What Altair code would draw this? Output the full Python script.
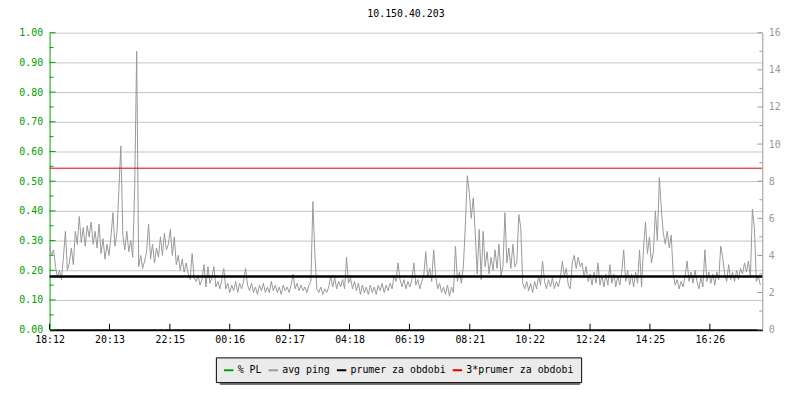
import altair as alt
import pandas as pd

TITLE = "10.150.40.203"
START = "2000-01-01 18:12"
STEP_MIN = 4

# avg ping in ms (right axis 0-16), one value per 4 minutes
ping_ms = [
    4.5, 4.0, 4.3, 3.4, 2.8, 3.2, 2.7, 3.9, 5.3, 3.2, 3.6, 4.4, 3.5, 5.3, 4.6, 6.1, 4.7, 5.5, 4.5, 5.6,
    5.0, 5.8, 4.6, 5.3, 4.4, 5.7, 4.1, 4.9, 3.8, 4.6, 4.0, 5.0, 6.3, 4.5, 5.2, 7.5, 9.9, 5.1, 4.3, 5.3,
    4.2, 4.8, 3.9, 7.7, 15.0, 3.4, 4.0, 3.3, 3.7, 4.2, 5.7, 3.8, 4.6, 3.6, 4.4, 3.9, 5.0, 4.0, 5.2, 4.3,
    4.6, 5.4, 4.0, 5.0, 3.5, 4.0, 3.2, 3.8, 3.1, 3.6, 3.0, 2.7, 4.1, 2.8, 2.6, 2.9, 2.4, 2.7, 3.5, 2.3,
    3.4, 2.5, 2.8, 3.4, 2.3, 2.6, 2.2, 2.7, 3.3, 2.2, 2.5, 2.0, 2.4, 2.1, 2.6, 2.0, 2.5, 2.2, 2.6, 3.3,
    2.4, 2.1, 2.5, 2.0, 2.3, 1.9, 2.4, 2.1, 2.5, 2.0, 2.3, 2.0, 2.6, 2.1, 2.4, 2.0, 2.3, 1.9, 2.4, 2.1,
    2.3, 2.0, 2.4, 3.0, 2.2, 2.5, 2.1, 2.4, 2.1, 2.3, 2.0, 2.4, 2.6, 6.9, 4.1, 2.2, 2.0, 2.3, 1.9, 2.2,
    2.0, 2.3, 2.9, 2.3, 2.8, 2.2, 2.6, 2.3, 2.7, 2.2, 3.9, 2.5, 2.8, 2.2, 2.6, 2.1, 2.5, 1.9, 2.4, 2.0,
    2.3, 1.9, 2.4, 2.0, 2.3, 1.9, 2.4, 2.1, 2.5, 2.0, 2.4, 2.1, 2.5, 2.2, 2.9, 2.6, 3.6, 2.7, 2.3, 2.7,
    2.2, 2.6, 2.3, 2.7, 3.6, 2.4, 2.7, 2.2, 2.6, 2.9, 4.2, 2.8, 3.3, 2.6, 4.3, 2.9, 2.2, 2.5, 2.0, 2.3,
    1.9, 2.4, 1.8, 2.3, 2.0, 4.5, 2.6, 3.1, 2.5, 3.4, 5.6, 8.3, 7.4, 6.0, 7.1, 5.2, 3.0, 5.4, 2.7, 5.3,
    3.4, 4.2, 3.0, 3.9, 3.2, 4.3, 3.3, 4.6, 2.9, 3.4, 6.3, 3.6, 4.4, 3.3, 4.6, 3.4, 3.6, 6.2, 5.5, 2.5,
    2.2, 2.6, 2.1, 2.5, 2.0, 2.6, 2.2, 2.9, 2.4, 3.7, 2.6, 2.2, 2.7, 2.3, 2.8, 2.2, 2.6, 2.3, 2.8, 3.7,
    2.9, 3.3, 2.4, 2.2, 3.6, 4.0, 3.3, 3.9, 3.4, 3.6, 2.8, 3.4, 2.6, 3.0, 2.4, 3.1, 2.5, 3.6, 2.4, 2.9,
    2.3, 3.0, 2.4, 3.5, 2.5, 3.0, 2.3, 2.9, 2.4, 3.1, 4.3, 2.6, 3.2, 2.4, 3.0, 2.3, 3.1, 2.5, 4.3, 2.3,
    4.4, 5.8, 4.1, 5.0, 3.6, 4.2, 6.4, 4.8, 8.2, 6.5, 5.2, 4.6, 5.3, 4.4, 5.1, 3.0, 2.4, 2.7, 2.2, 2.6,
    2.3, 2.9, 3.7, 2.6, 3.1, 2.5, 3.2, 2.6, 2.2, 2.8, 2.3, 4.3, 2.6, 3.1, 2.5, 3.0, 2.4, 3.1, 2.7, 4.5,
    3.9, 3.0, 2.6, 3.5, 2.7, 3.1, 2.6, 3.2, 2.7, 3.3, 3.0, 3.6, 3.1, 3.7, 2.8, 6.5, 5.5, 2.6, 2.9, 2.4,
]

prumer_ms = 2.87          # prumer za obdobi
triple_prumer_ms = 8.7    # 3*prumer za obdobi

series_names = ["% PL", "avg ping", "prumer za obdobi", "3*prumer za obdobi"]
series_colors = ["#00a000", "#999999", "#000000", "#dd0000"]

x_tick_labels = ["18:12", "20:13", "22:15", "00:16", "02:17", "04:18",
                 "06:19", "08:21", "10:22", "12:24", "14:25", "16:26"]
left_major = [0.0, 0.1, 0.2, 0.3, 0.4, 0.5, 0.6, 0.7, 0.8, 0.9, 1.0]
left_minor = [0.05, 0.15, 0.25, 0.35, 0.45, 0.55, 0.65, 0.75, 0.85, 0.95]
LEFT_FULL_MS = 16  # left 1.00 sits where the right axis reads 16
right_major = [0, 2, 4, 6, 8, 10, 12, 14, 16]
right_minor = [1, 3, 5, 7, 9, 11, 13, 15]

MONO = "DejaVu Sans Mono"
GREEN = "#00a000"
RGRAY = "#999999"

# ---------------------------------------------------------------- tables
times = pd.date_range(START, periods=len(ping_ms), freq=f"{STEP_MIN}min")
ping_df = pd.DataFrame({"t": times, "ms": ping_ms, "series": "avg ping"})


def tick_day(lbl):
    return 1 if int(lbl.split(":")[0]) >= 18 else 2


tick_dts = [alt.DateTime(year=2000, month=1, date=tick_day(l),
                         hours=int(l.split(":")[0]), minutes=int(l.split(":")[1]))
            for l in x_tick_labels]
xt_df = pd.DataFrame({"t": pd.to_datetime(
    [f"2000-01-0{tick_day(l)} {l}:00" for l in x_tick_labels])})

left_major_ms = [round(v * LEFT_FULL_MS, 4) for v in left_major]
left_minor_ms = [round(v * LEFT_FULL_MS, 4) for v in left_minor]
lmaj_df = pd.DataFrame({"ms": left_major_ms})
lmin_df = pd.DataFrame({"ms": left_minor_ms})
rmaj_df = pd.DataFrame({"ms": right_major})
rmin_df = pd.DataFrame({"ms": right_minor})
prumer_df = pd.DataFrame({"ms": [prumer_ms], "series": ["prumer za obdobi"]})
triple_df = pd.DataFrame({"ms": [triple_prumer_ms], "series": ["3*prumer za obdobi"]})
one_df = pd.DataFrame({"a": [0]})

# ---------------------------------------------------------------- scales / axes
x_scale = alt.Scale(domain=[alt.DateTime(year=2000, month=1, date=1, hours=18, minutes=12),
                            alt.DateTime(year=2000, month=1, date=2, hours=18, minutes=12)])
y_scale = alt.Scale(domain=[0, 16], nice=False, zero=True)

x_axis = alt.Axis(
    values=tick_dts, format="%H:%M", title=None, labelAngle=0, labelFlush=False,
    labelFont=MONO, labelFontSize=10, labelColor="#000000", labelPadding=5,
    ticks=False, domainColor="#000000", domainWidth=2, grid=False)

color_enc = alt.Color(
    "series:N",
    scale=alt.Scale(domain=series_names, range=series_colors),
    legend=alt.Legend(
        title=None, orient="none", legendX=168, legendY=328, direction="horizontal",
        fillColor="#ebebeb", strokeColor="#000000", padding=7,
        symbolType="stroke", symbolSize=90, symbolStrokeWidth=2,
        labelFont=MONO, labelFontSize=10, labelColor="#000000",
        columnPadding=2, labelOffset=3, zindex=1,
    ),
)

# ---------------------------------------------------------------- layers
shadow = alt.Chart(one_df).mark_rect(color="#777777").encode(
    x=alt.value(172), x2=alt.value(536), y=alt.value(332), y2=alt.value(356))

left_ticks = alt.Chart(lmaj_df).mark_rule(color=GREEN).encode(
    y=alt.Y("ms:Q", scale=y_scale, axis=alt.Axis(
        orient="left", values=left_major_ms, title=None,
        labelExpr=f"format(datum.value / {LEFT_FULL_MS}, '.2f')",
        labelColor=GREEN, labelFont=MONO, labelFontSize=10, labelPadding=7,
        ticks=False, domainColor=GREEN, domainWidth=1,
        grid=True, gridColor="#c4c4c4", gridWidth=1)),
    x=alt.value(0), x2=alt.value(6))

left_minor_ticks = alt.Chart(lmin_df).mark_rule(color=GREEN).encode(
    y=alt.Y("ms:Q", scale=y_scale, axis=None), x=alt.value(0), x2=alt.value(4))

right_ticks = alt.Chart(rmaj_df).mark_rule(color=RGRAY).encode(
    y=alt.Y("ms:Q", scale=y_scale, axis=alt.Axis(
        orient="right", values=right_major, title=None,
        labelColor=RGRAY, labelFont=MONO, labelFontSize=10, labelPadding=6,
        ticks=False, domainColor=RGRAY, domainWidth=1, grid=False)),
    x=alt.value(715), x2=alt.value(720))

right_minor_ticks = alt.Chart(rmin_df).mark_rule(color=RGRAY).encode(
    y=alt.Y("ms:Q", scale=y_scale, axis=None), x=alt.value(717), x2=alt.value(720))

x_ticks = alt.Chart(xt_df).mark_rule(color="#000000").encode(
    x=alt.X("t:T", scale=x_scale, axis=x_axis),
    y=alt.value(294), y2=alt.value(300))

ping = alt.Chart(ping_df).mark_line(strokeWidth=1).encode(
    x=alt.X("t:T", scale=x_scale, axis=x_axis),
    y=alt.Y("ms:Q", scale=y_scale, axis=None),
    color=color_enc)

triple = alt.Chart(triple_df).mark_rule(strokeWidth=1).encode(
    y=alt.Y("ms:Q", scale=y_scale, axis=None), color=color_enc)

prumer = alt.Chart(prumer_df).mark_rule(strokeWidth=2.5).encode(
    y=alt.Y("ms:Q", scale=y_scale, axis=None), color=color_enc)

chart = alt.layer(
    shadow, left_ticks, left_minor_ticks, right_ticks, right_minor_ticks, x_ticks,
    ping, triple, prumer,
).resolve_scale(y="shared").resolve_axis(y="independent").properties(
    width=720, height=300,
    autosize=alt.AutoSizeParams(type="none"),
    padding={"left": 42, "top": 23, "right": 30, "bottom": 61},
    title=alt.Title(TITLE, font=MONO, fontSize=10, fontWeight="normal", color="#000000",
                    anchor="middle", frame="group", offset=9),
).configure_view(stroke=None)

chart.save("out.html", embed_options={"renderer": "svg", "actions": False})
